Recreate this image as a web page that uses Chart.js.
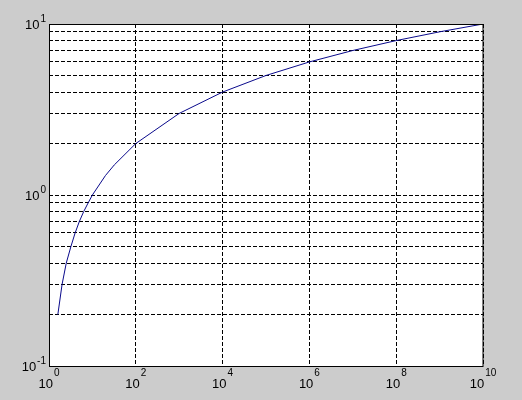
<!DOCTYPE html>
<html>
<head>
<meta charset="utf-8">
<script src="https://cdn.jsdelivr.net/npm/chart.js@4/dist/chart.umd.min.js"></script>
<style>
html,body{margin:0;padding:0;background:#cccccc;}
canvas{display:block;}
</style>
</head>
<body>
<canvas id="c" width="522" height="400"></canvas>
<script>
// Data
const curveX = [1.6, 2, 2.5, 3.2, 4, 5, 6.3, 8, 10, 20, 32, 100, 1e3, 1e4, 1e5, 1e6, 1e7, 1e8, 1e9, 1e10];
const curveY = [0.2, 0.3, 0.4, 0.5, 0.6, 0.7, 0.8, 0.9, 1, 1.3, 1.5, 2, 3, 4, 5, 6, 7, 8, 9, 10];

const xTickValues = [1, 1e2, 1e4, 1e6, 1e8, 1e10];
const xTickExponents = ['0', '2', '4', '6', '8', '10'];
const yTickValues = [0.1, 1, 10];
const yTickExponents = ['-1', '0', '1'];
const yGridValues = [0.1, 0.2, 0.3, 0.4, 0.5, 0.6, 0.7, 0.8, 0.9, 1, 2, 3, 4, 5, 6, 7, 8, 9, 10];

const points = curveX.map((x, i) => ({x: x, y: curveY[i]}));

const BASE_FONT = '13px "Liberation Sans", Arial, sans-serif';
const EXP_FONT = '10px "Liberation Sans", Arial, sans-serif';

const matlabPlugin = {
  id: 'matlab',
  beforeDraw(chart) {
    const ctx = chart.ctx, a = chart.chartArea;
    ctx.save();
    ctx.fillStyle = '#cccccc';
    ctx.fillRect(0, 0, chart.width, chart.height);
    ctx.fillStyle = '#ffffff';
    ctx.fillRect(a.left, a.top, a.right - a.left, a.bottom - a.top);
    ctx.restore();
  },
  afterDraw(chart) {
    const ctx = chart.ctx, a = chart.chartArea;
    const xs = chart.scales.x, ys = chart.scales.y;
    ctx.save();
    ctx.strokeStyle = '#000000';
    ctx.lineWidth = 1;
    ctx.setLineDash([]);
    ctx.strokeRect(Math.round(a.left) + 0.5, Math.round(a.top) + 0.5,
                   Math.round(a.right - a.left) - 1 + 0.5, Math.round(a.bottom - a.top));
    ctx.fillStyle = '#000000';
    ctx.textBaseline = 'alphabetic';
    ctx.textAlign = 'left';
    // x labels
    xTickValues.forEach((v, i) => {
      const px = xs.getPixelForValue(v);
      ctx.font = BASE_FONT;
      const w1 = ctx.measureText('10').width;
      ctx.font = EXP_FONT;
      const w2 = ctx.measureText(xTickExponents[i]).width;
      const start = px - (w1 + w2 + 1) / 2;
      ctx.font = BASE_FONT;
      ctx.fillText('10', start, a.bottom + 22);
      ctx.font = EXP_FONT;
      ctx.fillText(xTickExponents[i], start + w1 + 1, a.bottom + 10);
    });
    // y labels
    yTickValues.forEach((v, i) => {
      const py = ys.getPixelForValue(v);
      ctx.font = EXP_FONT;
      const w2 = ctx.measureText(yTickExponents[i]).width;
      const expX = a.left - 3 - w2;
      ctx.fillText(yTickExponents[i], expX, py - 2);
      ctx.font = BASE_FONT;
      const w1 = ctx.measureText('10').width;
      ctx.fillText('10', expX - 1 - w1, py + 5);
    });
    ctx.restore();
  }
};

new Chart(document.getElementById('c'), {
  type: 'scatter',
  data: {
    datasets: [{
      data: points,
      showLine: true,
      borderColor: '#0a0a8c',
      borderWidth: 1,
      pointRadius: 0,
      tension: 0,
      fill: false
    }]
  },
  options: {
    responsive: false,
    animation: false,
    events: [],
    layout: {padding: {left: 49, top: 24, right: 39, bottom: 34}},
    plugins: {legend: {display: false}, tooltip: {enabled: false}},
    scales: {
      x: {
        type: 'logarithmic',
        min: 1, max: 1e10,
        afterBuildTicks: s => { s.ticks = xTickValues.map(v => ({value: v})); },
        afterFit: s => { s.height = 0; },
        ticks: {display: false},
        grid: {color: '#000000', lineWidth: 1, drawTicks: false, tickLength: 0},
        border: {display: false, dash: [4, 2]}
      },
      y: {
        type: 'logarithmic',
        min: 0.1, max: 10,
        afterBuildTicks: s => { s.ticks = yGridValues.map(v => ({value: v})); },
        afterFit: s => { s.width = 0; },
        ticks: {display: false},
        grid: {color: '#000000', lineWidth: 1, drawTicks: false, tickLength: 0},
        border: {display: false, dash: [4, 2]}
      }
    }
  },
  plugins: [matlabPlugin]
});
</script>
</body>
</html>
